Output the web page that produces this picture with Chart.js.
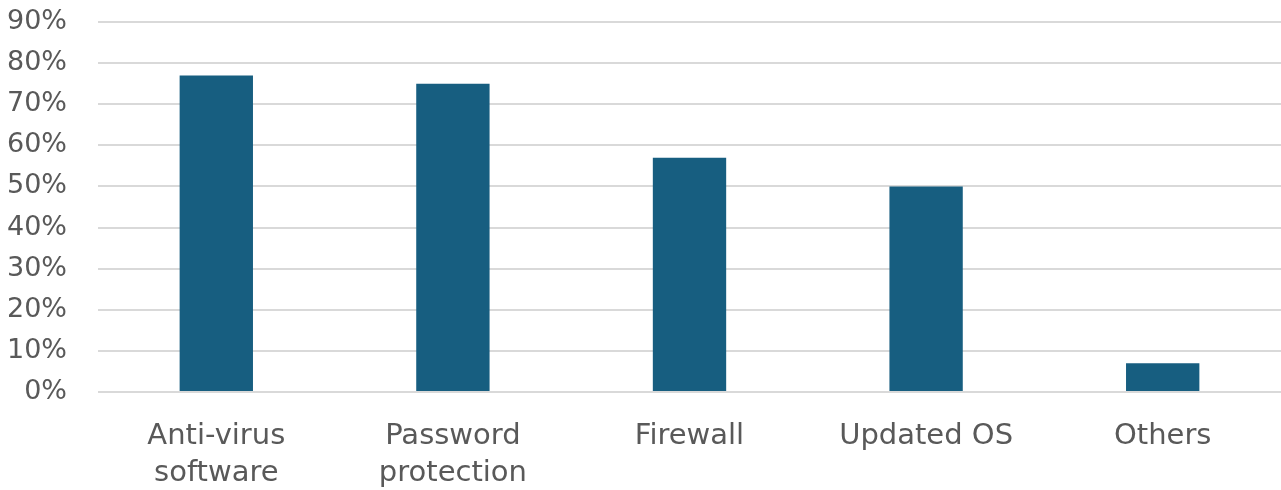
<!DOCTYPE html>
<html>
<head>
<meta charset="utf-8">
<script src="https://cdn.jsdelivr.net/npm/chart.js@4"></script>
<style>
    html, body { margin: 0; padding: 0; background: #ffffff; }
    #wrap { width: 1281px; height: 490px; position: relative; }
</style>
</head>
<body>
<div id="wrap"><canvas id="securityChart"></canvas></div>
<script>
const categories = [['Anti-virus', 'software'], ['Password', 'protection'], 'Firewall', 'Updated OS', 'Others'];
const shares = [77, 75, 57, 50, 7];
const yTicks = [0, 10, 20, 30, 40, 50, 60, 70, 80, 90];

const ctx = document.getElementById('securityChart').getContext('2d');
const securityChart = new Chart(ctx, {
    type: 'bar',
    data: {
        labels: categories,
        datasets: [{
            label: 'Share',
            data: shares,
            backgroundColor: '#175E80',
            barPercentage: 0.31,
            categoryPercentage: 1
        }]
    },
    options: {
        responsive: true,
        maintainAspectRatio: false,
        animation: false,
        layout: { padding: { top: 22, right: 0, bottom: 0, left: 0 } },
        plugins: {
            legend: { display: false },
            tooltip: { enabled: false }
        },
        scales: {
            x: {
                grid: { display: false, drawTicks: false },
                border: { display: false },
                afterFit: function (axis) {
                    axis.height = 98;
                    axis.paddingLeft = 0;
                    axis.paddingRight = 0;
                },
                ticks: {
                    color: '#595959',
                    font: { family: 'DejaVu Sans', size: 29, lineHeight: 1.27 },
                    padding: 26,
                    maxRotation: 0,
                    autoSkip: false
                }
            },
            y: {
                min: 0,
                max: 90,
                afterBuildTicks: function (axis) {
                    axis.ticks = yTicks.map(v => ({ value: v }));
                },
                afterFit: function (axis) {
                    axis.width = 98;
                    axis.paddingTop = 0;
                    axis.paddingBottom = 0;
                },
                grid: { color: '#D9D9D9', lineWidth: 2, drawTicks: false },
                border: { display: false },
                ticks: {
                    color: '#595959',
                    font: { family: 'DejaVu Sans', size: 27 },
                    padding: 31,
                    callback: function (value) {
                        return value + '%';
                    }
                }
            }
        }
    }
});
</script>
</body>
</html>
